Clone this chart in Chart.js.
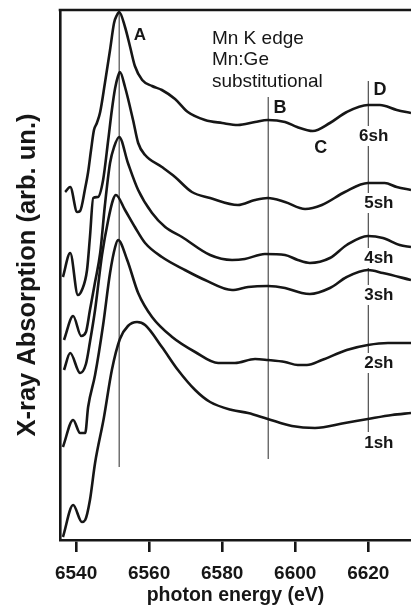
<!DOCTYPE html>
<html>
<head>
<meta charset="utf-8">
<script src="https://cdn.jsdelivr.net/npm/chart.js@4.4.1/dist/chart.umd.min.js"></script>
<style>
  html, body { margin: 0; padding: 0; background: #ffffff; }
  #wrap { width: 411px; height: 605px; }
</style>
</head>
<body>
<div id="wrap"><canvas id="xas" width="411" height="605"></canvas></div>
<script>
// Mn K-edge XANES spectra, Mn:Ge substitutional, cluster sizes 1..6 shells (vertically offset)
const energy6sh = [6537.0,6538.4,6540.3,6541.1,6542.5,6543.3,6544.1,6544.9,6545.7,6546.6,6547.9,6549.3,6550.4,6551.2,6551.8,6553.4,6554.8,6556.1,6558.1,6560.8,6563.5,6567.1,6570.6,6575.3,6580.0,6584.3,6589.0,6592.5,6597.2,6600.5,6604.8,6609.5,6614.1,6619.9,6623.2,6627.8,6631.7];
const abs6sh    = [348,353,328,329,352,368,390,410,417,428,457,490,517,525,528,513,493,474,460,454,450,441,428,420,417,415,418,420,418,413,409,417,428,435,435,430,427];

const energy5sh = [6536.4,6538.4,6540.5,6541.6,6543.0,6543.8,6544.7,6546.0,6547.4,6548.8,6549.8,6550.7,6551.5,6552.0,6553.4,6555.6,6557.0,6558.9,6563.5,6567.1,6571.7,6576.7,6584.3,6589.0,6592.5,6597.2,6602.7,6607.3,6613.6,6619.9,6624.5,6627.8,6631.7];
const abs5sh    = [263,287,245,250,270,303,342,343,360,400,430,452,464,468,453,420,397,385,373,363,348,342,335,340,342,338,331,335,348,357,357,353,350];

const energy4sh = [6536.7,6539.2,6541.4,6542.7,6543.8,6545.2,6546.6,6547.9,6549.3,6550.4,6551.8,6554.2,6557.0,6560.8,6564.4,6569.0,6576.7,6582.7,6586.2,6591.7,6597.2,6600.7,6604.0,6609.5,6614.1,6619.9,6624.0,6628.6,6631.7];
const abs4sh    = [200,224,204,208,230,258,287,335,377,393,403,377,350,327,313,303,285,280,281,286,285,280,277,282,295,304,302,295,293];

const energy3sh = [6536.7,6538.4,6541.1,6542.7,6543.8,6545.2,6547.1,6548.8,6550.1,6550.9,6553.4,6556.1,6558.9,6563.5,6569.8,6575.3,6582.7,6587.1,6592.5,6597.2,6601.8,6604.0,6609.5,6614.1,6619.9,6624.0,6631.7];
const abs3sh    = [170,187,167,176,198,230,285,320,340,345,330,313,297,283,270,260,250,253,254,252,247,246,252,263,270,267,260];

const energy2sh = [6536.4,6539.2,6541.1,6542.5,6543.3,6545.2,6547.4,6549.3,6550.7,6551.5,6554.0,6557.0,6560.8,6566.3,6572.6,6578.9,6583.5,6589.0,6592.5,6597.2,6600.7,6603.2,6607.3,6614.1,6619.9,6625.4,6631.7];
const abs2sh    = [93,120,107,107,133,165,215,267,293,300,280,247,223,203,188,177,177,181,180,178,175,175,180,190,195,197,197];

const energy1sh = [6536.4,6539.2,6541.6,6542.5,6543.8,6545.2,6547.6,6549.8,6552.0,6554.2,6556.7,6558.9,6563.5,6567.9,6572.6,6576.7,6582.7,6587.1,6592.5,6599.1,6605.4,6613.6,6619.9,6626.5,6631.7];
const abs1sh    = [3,35,18,20,40,77,122,170,201,214,218,215,193,170,150,138,130,127,121,114,112,117,121,125,127];

const shellNames = ['6sh','5sh','4sh','3sh','2sh','1sh'];
const xTicks = [6540, 6560, 6580, 6600, 6620];

// spectral features A, B, D marked by vertical guide lines
const featureNames    = ['A', 'B', 'D'];
const featureEnergies = [6551.8, 6592.6, 6620.0];
const featureTop      = [530, 443, 459];
const featureBottom   = [73, 81, 108];

const FONT = "'Liberation Sans', Arial, Helvetica, sans-serif";
const INK = '#161616';

// text placement in data coordinates (energy, absorption level of baseline)
const textLayout = [
  { text: 'A', energy: 6557.5, level: 500.5, size: 17, weight: 'bold', align: 'center' },
  { text: 'B', energy: 6595.8, level: 427,   size: 18, weight: 'bold', align: 'center' },
  { text: 'C', energy: 6607.0, level: 387,   size: 18, weight: 'bold', align: 'center' },
  { text: 'D', energy: 6623.2, level: 445,   size: 18, weight: 'bold', align: 'center' },
  { text: 'Mn K edge',      energy: 6577.2, level: 496, size: 19, weight: 'normal', align: 'left' },
  { text: 'Mn:Ge',          energy: 6577.2, level: 475, size: 19, weight: 'normal', align: 'left' },
  { text: 'substitutional', energy: 6577.2, level: 453, size: 19, weight: 'normal', align: 'left' }
];
const shellLabelEnergy = [6621.5, 6622.9, 6622.9, 6622.9, 6622.9, 6622.9];
const shellLabelLevel  = [399, 332, 277, 240, 172, 92];

const series = [
  [energy6sh, abs6sh], [energy5sh, abs5sh], [energy4sh, abs4sh],
  [energy3sh, abs3sh], [energy2sh, abs2sh], [energy1sh, abs1sh]
];

const datasets = series.map((s, i) => ({
  label: shellNames[i],
  data: s[0].map((e, k) => ({ x: e, y: s[1][k] })),
  borderColor: INK,
  borderWidth: 2.6,
  pointRadius: 0,
  cubicInterpolationMode: 'monotone',
  fill: false
}));

featureEnergies.forEach((e, i) => {
  datasets.push({
    label: featureNames[i],
    data: [{ x: e, y: featureBottom[i] }, { x: e, y: featureTop[i] }],
    borderColor: '#2a2a2a',
    borderWidth: 1,
    pointRadius: 0,
    fill: false
  });
});

const annotations = {
  id: 'annotations',
  afterDatasetsDraw(chart) {
    const { ctx, scales: { x, y } } = chart;
    ctx.save();
    ctx.fillStyle = INK;
    ctx.textBaseline = 'alphabetic';
    textLayout.forEach(t => {
      ctx.font = `${t.weight} ${t.size}px ${FONT}`;
      ctx.textAlign = t.align;
      ctx.fillText(t.text, x.getPixelForValue(t.energy), y.getPixelForValue(t.level));
    });
    // shell labels sit on a white patch that interrupts the D guide line
    ctx.font = `bold 17px ${FONT}`;
    ctx.textAlign = 'center';
    shellNames.forEach((name, i) => {
      const px = x.getPixelForValue(shellLabelEnergy[i]);
      const py = y.getPixelForValue(shellLabelLevel[i]);
      const w = ctx.measureText(name).width;
      ctx.fillStyle = '#ffffff';
      ctx.fillRect(px - w / 2 - 1, py - 15, w + 2, 20);
      ctx.fillStyle = INK;
      ctx.fillText(name, px, py);
    });
    ctx.restore();
  },
  afterDraw(chart) {
    const { ctx, chartArea } = chart;
    ctx.save();
    ctx.strokeStyle = INK;
    ctx.lineWidth = 2.6;
    ctx.beginPath();
    ctx.moveTo(chartArea.left - 1.3, chartArea.top);
    ctx.lineTo(chart.width, chartArea.top);
    ctx.stroke();
    ctx.restore();
  }
};

Chart.defaults.font.family = FONT;
Chart.defaults.color = INK;

new Chart(document.getElementById('xas'), {
  type: 'line',
  data: { datasets },
  plugins: [annotations],
  options: {
    responsive: false,
    animation: false,
    devicePixelRatio: 1,
    layout: { padding: { top: 10, right: 0, left: 0, bottom: 0 } },
    plugins: { legend: { display: false }, tooltip: { enabled: false } },
    scales: {
      x: {
        type: 'linear',
        min: 6535.6,
        max: 6631.7,
        afterBuildTicks: s => { s.ticks = xTicks.map(v => ({ value: v })); },
        afterFit: s => { s.height = 65; },
        grid: { display: true, drawOnChartArea: false, drawTicks: true, tickLength: 12, tickWidth: 2.6, tickColor: INK, color: INK, lineWidth: 2.6 },
        border: { display: true, color: INK, width: 2.6 },
        ticks: { font: { size: 19, weight: 'bold' }, color: INK, padding: 10, maxRotation: 0, autoSkip: false, callback: v => String(v) },
        title: { display: true, text: 'photon energy (eV)', color: INK, font: { size: 19.5, weight: 'bold', lineHeight: 1 }, padding: { top: 0, bottom: 0 } }
      },
      y: {
        type: 'linear',
        min: 0,
        max: 530,
        afterFit: s => { s.width = 60; },
        grid: { display: false, drawTicks: false },
        border: { display: true, color: INK, width: 2.6 },
        ticks: { display: false },
        title: { display: true, text: 'X-ray Absorption (arb. un.)', color: INK, font: { size: 25.5, weight: 'bold', lineHeight: 1 }, padding: { top: 15, bottom: 0 } }
      }
    }
  }
});
</script>
</body>
</html>
